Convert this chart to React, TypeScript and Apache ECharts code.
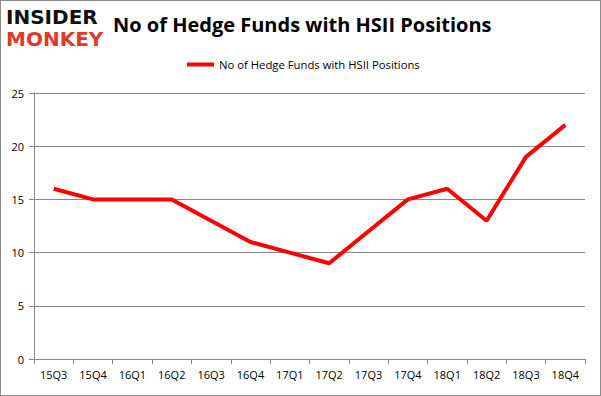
import React, { useEffect, useRef } from "react";
import * as echarts from "echarts";

const categories = ["15Q3", "15Q4", "16Q1", "16Q2", "16Q3", "16Q4", "17Q1", "17Q2", "17Q3", "17Q4", "18Q1", "18Q2", "18Q3", "18Q4"];
const hedgeFunds = [16, 15, 15, 15, 13, 11, 10, 9, 12, 15, 16, 13, 19, 22];
const seriesName = "No of Hedge Funds with HSII Positions";
const titleText = "No of Hedge Funds with HSII Positions";

export default function App() {
  const ref = useRef<HTMLDivElement>(null);
  useEffect(() => {
    document.body.style.margin = "0";
    const chart = echarts.init(ref.current!, null, { renderer: "svg" });
    const font = "'Open Sans', 'DejaVu Sans', sans-serif";
    const logoFont = "'DejaVu Sans', sans-serif";
    chart.setOption({
      animation: false,
      backgroundColor: "#ffffff",
      title: {
        text: titleText,
        left: 112,
        top: 13,
        padding: 0,
        textStyle: { fontFamily: font, fontWeight: "bold", fontSize: 20, color: "#000" },
      },
      legend: {
        data: [seriesName],
        top: 53,
        left: 181,
        itemWidth: 27,
        itemHeight: 4,
        itemGap: 6,
        icon: "rect",
        textStyle: { fontFamily: font, fontSize: 11.3, color: "#000" },
      },
      graphic: [
        {
          type: "text",
          left: 5,
          top: 6,
          style: { text: "INSIDER", fontFamily: logoFont, fontWeight: 900, fontSize: 20, lineHeight: 20, fill: "#111" },
        },
        {
          type: "text",
          left: 5,
          top: 28,
          style: { text: "MONKEY", fontFamily: logoFont, fontWeight: 900, fontSize: 20, lineHeight: 20, fill: "#e0392b" },
        },
      ],
      grid: { left: 33, right: 15, top: 92, bottom: 36 },
      xAxis: {
        type: "category",
        data: categories,
        boundaryGap: true,
        axisLine: { lineStyle: { color: "#868686", width: 1 } },
        axisTick: { show: true, length: 5, alignWithLabel: false, lineStyle: { color: "#868686" } },
        axisLabel: { fontFamily: font, fontSize: 11, color: "#000", margin: 10 },
      },
      yAxis: {
        type: "value",
        min: 0,
        max: 25,
        interval: 5,
        axisLine: { show: true, lineStyle: { color: "#868686", width: 1 } },
        axisTick: { show: true, length: 5, lineStyle: { color: "#868686" } },
        splitLine: { show: true, lineStyle: { color: "#868686", width: 1 } },
        axisLabel: { fontFamily: font, fontSize: 11, color: "#000", margin: 10 },
      },
      series: [
        {
          name: seriesName,
          type: "line",
          data: hedgeFunds,
          showSymbol: false,
          symbol: "none",
          lineStyle: { color: "#ff0000", width: 4 },
          itemStyle: { color: "#ff0000" },
        },
      ],
    });
    return () => chart.dispose();
  }, []);
  return (
    <div
      ref={ref}
      style={{ position: "absolute", left: 0, top: 0, width: 601, height: 396, boxSizing: "border-box", border: "1px solid #8a8a8a" }}
    />
  );
}
